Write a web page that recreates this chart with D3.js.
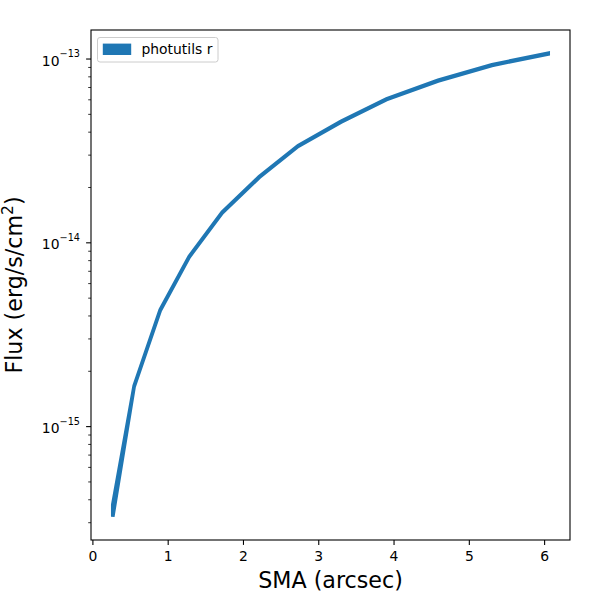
<!DOCTYPE html>
<html>
<head>
<meta charset="utf-8">
<script src="https://cdn.jsdelivr.net/npm/d3@7"></script>
<style>
  html, body { margin: 0; padding: 0; background: #fff; }
  svg text { font-family: "DejaVu Sans", sans-serif; fill: #000; }
</style>
</head>
<body>
<svg id="chart" width="600" height="600"></svg>
<script>
// Isophote profile values
const sma = [0.264, 0.548, 0.894, 1.279, 1.717, 2.21, 2.725, 3.295, 3.90, 4.585, 5.30, 6.048];
const flux = [3.50e-16, 1.66e-15, 4.30e-15, 8.40e-15, 1.46e-14, 2.28e-14, 3.36e-14, 4.56e-14, 6.04e-14, 7.62e-14, 9.27e-14, 1.071e-13];
const fluxErr = [0.27e-16, 0.008e-15, 0.02e-15, 0.04e-15, 0.007e-14, 0.011e-14, 0.016e-14, 0.022e-14, 0.030e-14, 0.038e-14, 0.045e-14, 0.005e-13];
const xTicks = [0, 1, 2, 3, 4, 5, 6];
const yDecades = [-15, -14, -13];
const seriesLabel = 'photutils r';

const color = '#1f77b4';
const margin = { left: 91, right: 30, top: 30, bottom: 60 };
const width = 600, height = 600;

const svg = d3.select('#chart');

const points = sma.map((x, i) => ({ x, lo: flux[i] - fluxErr[i], hi: flux[i] + fluxErr[i] }));

// Step 1: scales with matplotlib-like 5% margins (log space for y)
const pad = (lo, hi) => [lo - (hi - lo) * 0.05, hi + (hi - lo) * 0.05];
const xDom = pad(d3.min(sma), d3.max(sma));
const logDom = pad(Math.log10(d3.min(points, d => d.lo)), Math.log10(d3.max(points, d => d.hi)));

const xScale = d3.scaleLinear()
  .domain(xDom)
  .range([margin.left, width - margin.right]);

const yScale = d3.scaleLog()
  .domain([10 ** logDom[0], 10 ** logDom[1]])
  .range([height - margin.bottom, margin.top]);

const plotBottom = height - margin.bottom;

// Step 2: the band
const area = d3.area()
  .x(d => xScale(d.x))
  .y0(d => yScale(d.lo))
  .y1(d => yScale(d.hi));

svg.append('clipPath').attr('id', 'plot-clip')
  .append('rect')
  .attr('x', margin.left)
  .attr('y', margin.top)
  .attr('width', width - margin.left - margin.right)
  .attr('height', plotBottom - margin.top);

svg.append('path')
  .datum(points)
  .attr('clip-path', 'url(#plot-clip)')
  .attr('d', area)
  .attr('fill', color)
  .attr('stroke', color)
  .attr('stroke-width', 3.6)
  .attr('stroke-linejoin', 'miter')
  .attr('stroke-miterlimit', 6);

// Step 3: x axis
const xAxis = svg.append('g')
  .attr('transform', `translate(0, ${plotBottom})`);

xAxis.selectAll('line')
  .data(xTicks)
  .join('line')
  .attr('x1', d => xScale(d))
  .attr('x2', d => xScale(d))
  .attr('y1', 0)
  .attr('y2', 4.9)
  .attr('stroke', '#000')
  .attr('stroke-width', 1.1);

xAxis.selectAll('text')
  .data(xTicks)
  .join('text')
  .attr('x', d => xScale(d))
  .attr('y', 21)
  .attr('text-anchor', 'middle')
  .attr('font-size', 13.9)
  .text(d => d);

// Step 4: y axis, major decades plus minor ticks
const minorTicks = [];
d3.range(Math.floor(logDom[0]), Math.ceil(logDom[1])).forEach(e => {
  d3.range(2, 10).forEach(m => {
    const v = m * 10 ** e;
    if (Math.log10(v) >= logDom[0] && Math.log10(v) <= logDom[1]) {
      minorTicks.push(v);
    }
  });
});

const yAxis = svg.append('g')
  .attr('transform', `translate(${margin.left}, 0)`);

yAxis.selectAll('line.minor')
  .data(minorTicks)
  .join('line')
  .attr('class', 'minor')
  .attr('x1', -2.8)
  .attr('x2', 0)
  .attr('y1', d => yScale(d))
  .attr('y2', d => yScale(d))
  .attr('stroke', '#000')
  .attr('stroke-width', 0.8);

yAxis.selectAll('line.major')
  .data(yDecades)
  .join('line')
  .attr('class', 'major')
  .attr('x1', -4.9)
  .attr('x2', 0)
  .attr('y1', d => yScale(10 ** d))
  .attr('y2', d => yScale(10 ** d))
  .attr('stroke', '#000')
  .attr('stroke-width', 1.1);

const yLabels = yAxis.selectAll('text')
  .data(yDecades)
  .join('text')
  .attr('x', -11)
  .attr('y', d => yScale(10 ** d) + 6.5)
  .attr('text-anchor', 'end')
  .attr('font-size', 13.9);

yLabels.append('tspan').text('10');
yLabels.append('tspan')
  .attr('font-size', 9.7)
  .attr('dy', -8.5)
  .text(d => '\u2212' + Math.abs(d));

// Step 5: frame
svg.append('rect')
  .attr('x', margin.left)
  .attr('y', margin.top)
  .attr('width', width - margin.left - margin.right)
  .attr('height', plotBottom - margin.top)
  .attr('fill', 'none')
  .attr('stroke', '#000')
  .attr('stroke-width', 1.1);

// Step 6: axis titles
svg.append('text')
  .attr('x', (margin.left + width - margin.right) / 2)
  .attr('y', 588)
  .attr('text-anchor', 'middle')
  .attr('font-size', 22.2)
  .text('SMA (arcsec)');

const yTitle = svg.append('text')
  .attr('transform', `translate(22, ${(margin.top + plotBottom) / 2}) rotate(-90)`)
  .attr('text-anchor', 'middle')
  .attr('font-size', 22.2);

yTitle.append('tspan').text('Flux (erg/s/cm');
yTitle.append('tspan').attr('font-size', 15.5).attr('dy', -9).text('2');
yTitle.append('tspan').attr('dy', 9).text(')');

// Step 7: legend
const legend = svg.append('g');

legend.append('rect')
  .attr('x', 97.5)
  .attr('y', 37.5)
  .attr('width', 120.5)
  .attr('height', 24.5)
  .attr('rx', 2.5)
  .attr('fill', '#fff')
  .attr('fill-opacity', 0.8)
  .attr('stroke', '#cccccc')
  .attr('stroke-width', 1);

legend.append('rect')
  .attr('x', 103.5)
  .attr('y', 44.3)
  .attr('width', 27)
  .attr('height', 10)
  .attr('fill', color)
  .attr('stroke', color)
  .attr('stroke-width', 1.4);

legend.append('text')
  .attr('x', 141.5)
  .attr('y', 53.8)
  .attr('font-size', 13.9)
  .text(seriesLabel);
</script>
</body>
</html>
